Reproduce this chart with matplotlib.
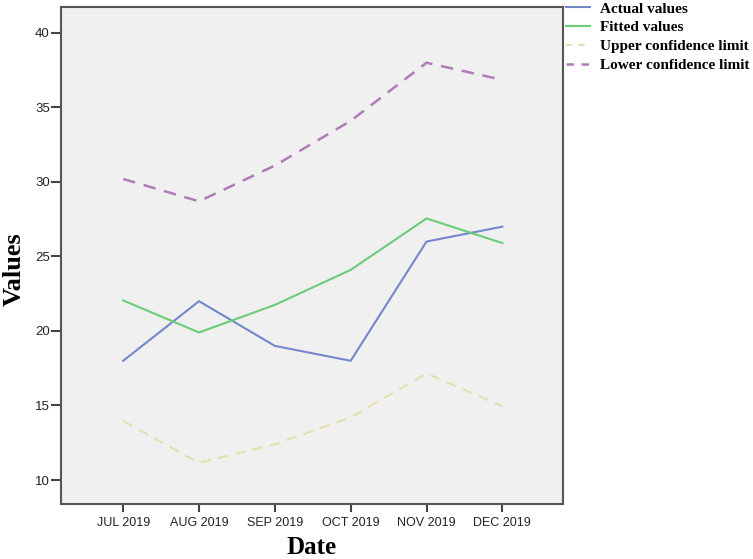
import matplotlib
matplotlib.use("Agg")
import matplotlib.pyplot as plt

dates = ["JUL 2019", "AUG 2019", "SEP 2019", "OCT 2019", "NOV 2019", "DEC 2019"]
actual = [18.0, 22.0, 19.0, 18.0, 26.0, 27.0]
fitted = [22.05, 19.9, 21.75, 24.1, 27.55, 25.9]
upper_cl = [13.95, 11.15, 12.4, 14.2, 17.15, 14.95]
lower_cl = [30.2, 28.7, 31.1, 34.1, 38.0, 36.85]
yticks = [10, 15, 20, 25, 30, 35, 40]

W, H = 753, 559
fig = plt.figure(figsize=(W/100, H/100), dpi=100)
ax = fig.add_axes([61/W, 55/H, (563-61)/W, (504-7)/H])
ax.set_facecolor("#f0f0f0")
x = list(range(len(dates)))

ax.plot(x, actual, color="#7486cc", lw=1.5, label="Actual values")
ax.plot(x, fitted, color="#6ccc78", lw=1.5, label="Fitted values")
ax.plot(x, upper_cl, color="#e4dfae", lw=1.5, ls=(0, (5, 3.5)), label="Upper confidence limit")
ax.plot(x, lower_cl, color="#b07cb8", lw=1.8, ls=(0, (5, 3.5)), label="Lower confidence limit")

ax.set_xlim(-0.82, 5.8)
ax.set_ylim(8.39, 41.74)
ax.set_xticks(x)
ax.set_xticklabels(dates)
ax.set_yticks(yticks)
for s in ax.spines.values():
    s.set_color("#555555")
    s.set_linewidth(1.5)
ax.tick_params(axis="y", direction="out", length=7, width=1.5, color="#444444",
               labelsize=9.5, labelcolor="#222222", pad=1)
ax.tick_params(axis="x", direction="out", length=6, width=1.5, color="#444444",
               labelsize=9, labelcolor="#222222", pad=3)
for lab in ax.get_xticklabels() + ax.get_yticklabels():
    lab.set_family("Liberation Sans")

fig.text(312/W, 1-547/H, "Date", family="Liberation Serif", fontweight="bold",
         fontsize=18, ha="center", va="center")
fig.text(14/W, 1-269/H, "Values", family="Liberation Serif", fontweight="bold",
         fontsize=19, ha="center", va="center", rotation=90)

leg = fig.legend(loc="upper left", bbox_to_anchor=(566/W, 1-2/H), frameon=False,
                 prop={"family": "Liberation Serif", "weight": "bold", "size": 11},
                 handlelength=1.6, handletextpad=0.6, labelspacing=0.33,
                 borderaxespad=0, borderpad=0)
for h in leg.get_lines()[2:]:
    h.set_dashes((3, 3))

fig.savefig("out.png", dpi=100)
